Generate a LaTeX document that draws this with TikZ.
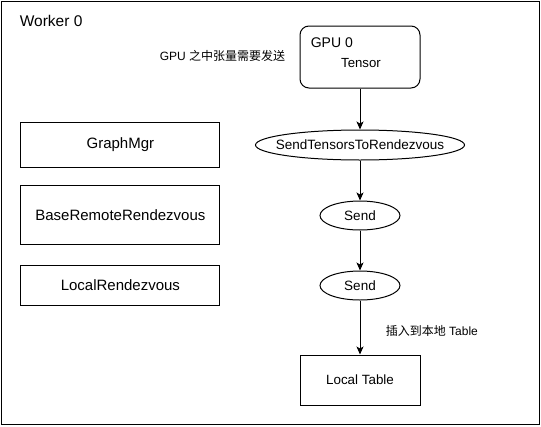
\documentclass[tikz,border=0pt]{standalone}
\usepackage{fontspec}
\setmainfont{Liberation Sans}
\newfontfamily\cjk{Noto Sans CJK SC}
\usetikzlibrary{shapes.geometric,arrows.meta}

\begin{document}
\begin{tikzpicture}[x=1pt,y=-1pt,line width=1pt,
    box/.style={draw, inner sep=0pt, minimum width=199pt, font=\fontsize{15}{18}\selectfont},
    oval/.style={draw, ellipse, inner sep=0pt, font=\fontsize{13.5}{16}\selectfont},
    arr/.style={-{Stealth[length=8pt,width=7pt,inset=2pt]}}]
        \useasboundingbox (0,0) rectangle (541,426);
        \draw (1,1) rectangle (539,424);

        \node[anchor=west, font=\fontsize{15.5}{18}\selectfont] (worker) at (16,21) {Worker 0};

        % left column
        \node[box, minimum height=45pt] (graphmgr) at (120.4,145) {GraphMgr};
        \node[box, minimum height=59pt] (baseremote) at (120.4,215.4) {BaseRemoteRendezvous};
        \node[box, minimum height=40pt] (localrdv) at (120.4,285) {LocalRendezvous};

        % send path
        \node[draw, rounded corners=9pt, minimum width=120pt, minimum height=62pt] (gpu) at (360,57) {};
        \node[anchor=west, font=\fontsize{14}{16}\selectfont] (gpuname) at (307,43) {GPU 0};
        \node[font=\fontsize{13.2}{16}\selectfont] (tensor) at (361,63) {Tensor};
        \node[anchor=east, font=\fontsize{12}{14}\selectfont] (gpulabel) at (289,56) {GPU {\cjk 之中张量需要发送}};

        \node[oval, minimum width=209pt, minimum height=30pt] (sendtensors) at (360,145) {\makebox[0pt]{SendTensorsToRendezvous}};
        \node[oval, minimum width=80pt, minimum height=29pt] (sendA) at (360,215.5) {\makebox[0pt]{Send}};
        \node[oval, minimum width=80pt, minimum height=29pt] (sendB) at (360,285.5) {\makebox[0pt]{Send}};
        \node[draw, minimum width=120pt, minimum height=50pt, font=\fontsize{13.4}{16}\selectfont] (localtable) at (360,380) {Local Table};
        \node[anchor=west, font=\fontsize{12}{14}\selectfont] (insertlabel) at (382,331) {{\cjk 插入到本地} Table};

        \draw[arr] (gpu) -- (sendtensors);
        \draw[arr] (sendtensors) -- (sendA);
        \draw[arr] (sendA) -- (sendB);
        \draw[arr] (sendB) -- (localtable);
\end{tikzpicture}
\end{document}
